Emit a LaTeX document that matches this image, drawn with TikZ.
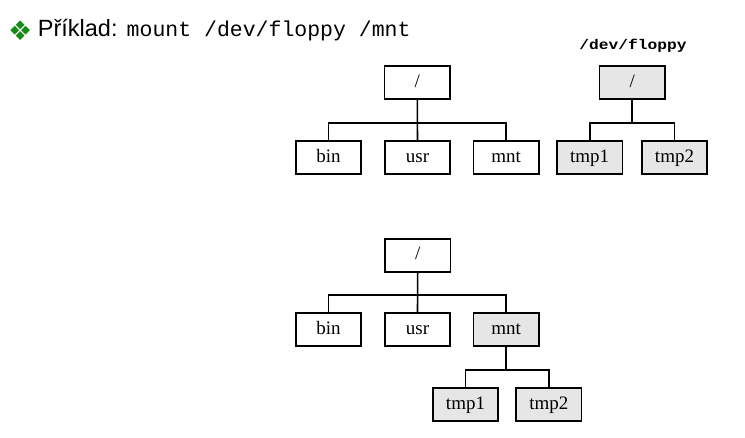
\documentclass[tikz,border=0pt]{standalone}
\usepackage{fontspec}
\setmainfont{Liberation Serif}
\newfontfamily\hdsans{Liberation Sans}
\newfontfamily\hdmono{Liberation Mono}
\newfontfamily\hdsym{DejaVu Sans}
\definecolor{boxgray}{RGB}{230,230,230}
\definecolor{bulgreen}{RGB}{20,140,20}
\tikzset{
  fbox/.style={draw=black, line width=1.7pt, minimum width=65.5pt, minimum height=33pt,
    inner sep=0pt, text height=12.6pt, text depth=3.4pt, font=\fontsize{19}{21}\selectfont},
  gbox/.style={fbox, fill=boxgray},
  wbox/.style={fbox, fill=white},
  conn/.style={line width=1.6pt}
}
\begin{document}
\begin{tikzpicture}[x=1pt,y=-1pt]
\useasboundingbox (0,0) rectangle (745,437);
% header
\node[inner sep=0pt, text=bulgreen, font=\hdsym\fontsize{27}{29}\selectfont] (bul) at (20.3,31) {❖};
\node[inner sep=0pt, anchor=base west, font=\hdsans\fontsize{23.5}{26}\selectfont] (pr) at (37.7,36.7) {Příklad:};
\node[inner sep=0pt, anchor=base west, font=\hdmono\fontsize{21.5}{24}\selectfont] (cmd) at (126.5,36.7) {mount /dev/floppy /mnt};
\node[inner sep=0pt, anchor=base, font=\hdmono\bfseries\fontsize{14}{16}\selectfont] (fl) at (633,49.3) {\scalebox{1.16}[1]{/dev/floppy}};
% top tree
\node[wbox] (r1) at (417.3,82.7) {/};
\node[wbox] (bin1) at (328.5,157.7) {bin};
\node[wbox] (usr1) at (417.5,157.7) {usr};
\node[wbox] (mnt1) at (506.2,157.7) {mnt};
\coordinate (j1) at (417.4,122.7);
\draw[conn] (r1.south) -- (j1);
\draw[conn] (j1) -- (usr1.north);
\draw[conn] (j1) -| (bin1.north);
\draw[conn] (j1) -| (mnt1.north);
% floppy tree
\node[gbox] (r2) at (632.2,82.7) {/};
\node[gbox] (t1a) at (589.7,157.7) {tmp1};
\node[gbox] (t2a) at (674.5,157.7) {tmp2};
\coordinate (j2) at (632.2,122.7);
\draw[conn] (r2.south) -- (j2);
\draw[conn] (j2) -| (t1a.north);
\draw[conn] (j2) -| (t2a.north);
% bottom tree
\node[wbox] (r3) at (417.7,255.3) {/};
\node[wbox] (bin3) at (328.5,329.7) {bin};
\node[wbox] (usr3) at (417.5,329.7) {usr};
\node[gbox] (mnt3) at (506.1,329.7) {mnt};
\node[gbox] (t1b) at (465.5,404.7) {tmp1};
\node[gbox] (t2b) at (548.8,404.7) {tmp2};
\coordinate (j3) at (417.6,295);
\draw[conn] (r3.south) -- (j3);
\draw[conn] (j3) -- (usr3.north);
\draw[conn] (j3) -| (bin3.north);
\draw[conn] (j3) -| (mnt3.north);
\coordinate (j4) at (506.1,370);
\draw[conn] (mnt3.south) -- (j4);
\draw[conn] (j4) -| (t1b.north);
\draw[conn] (j4) -| (t2b.north);
\end{tikzpicture}
\end{document}
